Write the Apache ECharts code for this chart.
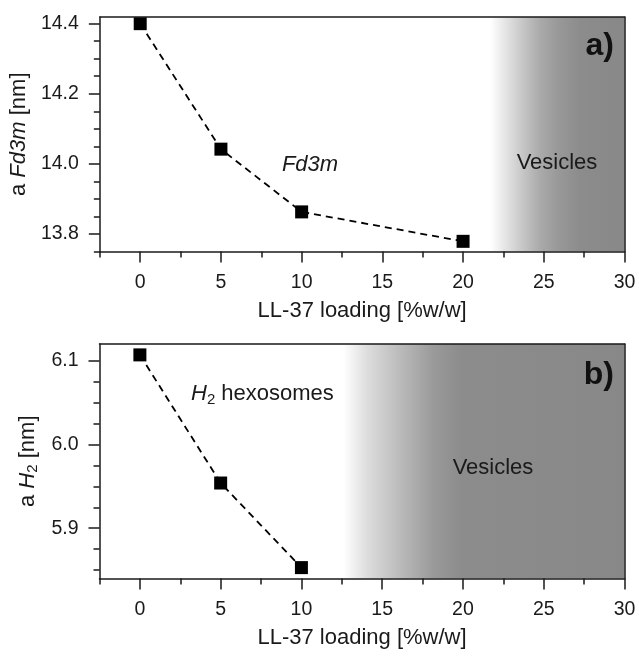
<!DOCTYPE html>
<html>
<head>
<meta charset="utf-8">
<script src="https://cdn.jsdelivr.net/npm/echarts@6/dist/echarts.min.js"></script>
<style>
    html, body { margin: 0; padding: 0; background: #fff; }
    #chartWrap { width: 639px; height: 657px; }
</style>
</head>
<body>
<div id="chartWrap"></div>
<script>
// 数据：LL-37 loading 与晶格参数
var loadingA = [0, 5, 10, 20];
var latticeA = [14.40, 14.042, 13.863, 13.779]; // a Fd3m [nm]
var loadingB = [0, 5, 10];
var latticeB = [6.107, 5.954, 5.853]; // a H2 [nm]

// 刻度
var xMajor = [0, 5, 10, 15, 20, 25, 30];
var xMinor = [-2.5, 2.5, 7.5, 12.5, 17.5, 22.5, 27.5];
var yMajorA = [13.8, 14.0, 14.2, 14.4];
var yMinorA = [13.75, 13.85, 13.9, 13.95, 14.05, 14.1, 14.15, 14.25, 14.3, 14.35];
var yMajorB = [5.9, 6.0, 6.1];
var yMinorB = [5.85, 5.875, 5.925, 5.95, 5.975, 6.025, 6.05, 6.075];

// 囊泡区域 (x)
var vesicleA = [21.7, 30];
var vesicleB = [12.6, 30];

var FONT = '"Liberation Sans", Arial, sans-serif';
var INK = '#1a1a1a';
var xRange = [-2.5, 30];
var xTitle = 'LL-37 loading [%w/w]';

var lineSt = { color: INK, width: 1.5 };
var labelSize = 19.5;
var nameSize = 22;

// 每个面板三个x轴：主刻度+标签、次刻度、顶边框
function xAxes(grid) {
    var base = { gridIndex: grid, type: 'value', min: xRange[0], max: xRange[1], z: 10, splitLine: { show: false } };
    return [
        $x(base, {
            position: 'bottom',
            name: xTitle, nameLocation: 'middle', nameGap: 48,
            nameTextStyle: { fontSize: nameSize, color: INK, fontFamily: FONT },
            axisLine: { show: true, onZero: false, lineStyle: lineSt },
            axisTick: { show: true, length: 11, customValues: xMajor, lineStyle: lineSt },
            axisLabel: { show: true, customValues: xMajor, margin: 21, fontSize: labelSize, color: INK, fontFamily: FONT }
        }),
        $x(base, {
            position: 'bottom',
            axisLine: { show: false, onZero: false },
            axisTick: { show: true, length: 6, customValues: xMinor, lineStyle: lineSt },
            axisLabel: { show: false }
        }),
        $x(base, {
            position: 'top',
            axisLine: { show: true, onZero: false, lineStyle: lineSt },
            axisTick: { show: false }, axisLabel: { show: false }
        })
    ];
}

function yAxes(grid, range, major, minor, title, rich, gap) {
    var base = { gridIndex: grid, type: 'value', min: range[0], max: range[1], z: 10, splitLine: { show: false } };
    return [
        $x(base, {
            position: 'left',
            name: title, nameLocation: 'middle', nameGap: gap, nameRotate: 90,
            nameTextStyle: { fontSize: nameSize, color: INK, fontFamily: FONT, rich: rich },
            axisLine: { show: true, onZero: false, lineStyle: lineSt },
            axisTick: { show: true, length: 11, customValues: major, lineStyle: lineSt },
            axisLabel: {
                show: true, customValues: major, margin: 21, fontSize: labelSize, color: INK, fontFamily: FONT,
                formatter: function (v) { return v.toFixed(1); }
            }
        }),
        $x(base, {
            position: 'left',
            axisLine: { show: false, onZero: false },
            axisTick: { show: true, length: 6, customValues: minor, lineStyle: lineSt },
            axisLabel: { show: false }
        }),
        $x(base, {
            position: 'right',
            axisLine: { show: true, onZero: false, lineStyle: lineSt },
            axisTick: { show: false }, axisLabel: { show: false }
        })
    ];
}

// 浅拷贝合并
function $x(a, b) {
    var o = {}, k;
    for (k in a) o[k] = a[k];
    for (k in b) o[k] = b[k];
    return o;
}

function pairs(xs, ys) {
    var d = [];
    for (var i = 0; i < xs.length; i++) d.push([xs[i], ys[i]]);
    return d;
}

// 白->灰 渐变
function fade(stops) {
    return new echarts.graphic.LinearGradient(0, 0, 1, 0, stops);
}

function series(xi, yi, xs, ys, band, stops) {
    return {
        type: 'line',
        xAxisIndex: xi, yAxisIndex: yi,
        data: pairs(xs, ys),
        symbol: 'rect', symbolSize: 13,
        itemStyle: { color: '#000' },
        lineStyle: { color: '#000', width: 1.8, type: [7, 5] },
        z: 5,
        animation: false,
        markArea: {
            silent: true,
            itemStyle: { color: fade(stops), borderWidth: 0 },
            data: [[{ xAxis: band[0] }, { xAxis: band[1] }]]
        }
    };
}

var richA = {
    n: { fontSize: nameSize, fontFamily: FONT, color: INK },
    i: { fontSize: nameSize, fontFamily: FONT, color: INK, fontStyle: 'italic' }
};
// 下标 2 往下压一点
var richB = {
    n: { fontSize: nameSize, fontFamily: FONT, color: INK, lineHeight: 24, verticalAlign: 'top' },
    i: { fontSize: nameSize, fontFamily: FONT, color: INK, fontStyle: 'italic', lineHeight: 24, verticalAlign: 'top' },
    s: { fontSize: 15, fontFamily: FONT, color: INK, lineHeight: 15, padding: [17, 0, 0, 0], verticalAlign: 'bottom' }
};

var myChart = echarts.init(document.getElementById('chartWrap'));

var option = {
    animation: false,
    backgroundColor: '#fff',
    textStyle: { fontFamily: FONT },
    grid: [
        { left: 99.5, top: 17, width: 525, height: 234.5 },
        { left: 99.5, top: 344, width: 525, height: 234.5 }
    ],
    xAxis: xAxes(0).concat(xAxes(1)),
    yAxis: yAxes(0, [13.75, 14.419], yMajorA, yMinorA, '{n|a }{i|Fd3m}{n| [nm]}', richA, 51)
        .concat(yAxes(1, [5.84, 6.12], yMajorB, yMinorB, '{n|a }{i|H}{s|2}{n| [nm]}', richB, 52)),
    series: [
        series(0, 0, loadingA, latticeA, vesicleA, [
            { offset: 0, color: '#ffffff' },
            { offset: 0.13, color: '#e0e0e0' },
            { offset: 0.25, color: '#c4c4c4' },
            { offset: 0.37, color: '#aaaaaa' },
            { offset: 0.5, color: '#999999' },
            { offset: 0.67, color: '#8c8c8c' },
            { offset: 1, color: '#888888' }
        ]),
        series(3, 3, loadingB, latticeB, vesicleB, [
            { offset: 0, color: '#ffffff' },
            { offset: 0.085, color: '#dddddd' },
            { offset: 0.2, color: '#bbbbbb' },
            { offset: 0.32, color: '#9a9a9a' },
            { offset: 0.42, color: '#8c8c8c' },
            { offset: 1, color: '#888888' }
        ])
    ],
    // 注释文字
    graphic: [
        { type: 'text', x: 614, y: 46, z: 100, style: { text: 'a)', fontSize: 32, fontWeight: 'bold', fontFamily: FONT, fill: '#111', align: 'right', verticalAlign: 'middle' } },
        { type: 'text', x: 614, y: 375, z: 100, style: { text: 'b)', fontSize: 32, fontWeight: 'bold', fontFamily: FONT, fill: '#111', align: 'right', verticalAlign: 'middle' } },
        { type: 'text', x: 557, y: 163, z: 100, style: { text: 'Vesicles', fontSize: 22, fontFamily: FONT, fill: '#1a1a1a', align: 'center', verticalAlign: 'middle' } },
        { type: 'text', x: 493, y: 468, z: 100, style: { text: 'Vesicles', fontSize: 22, fontFamily: FONT, fill: '#1a1a1a', align: 'center', verticalAlign: 'middle' } },
        { type: 'text', x: 310, y: 165, z: 100, style: { text: 'Fd3m', fontSize: 22, fontStyle: 'italic', fontFamily: FONT, fill: INK, align: 'center', verticalAlign: 'middle' } },
        { type: 'text', x: 191, y: 395, z: 100, style: { text: '{i|H}{s|2}{n| hexosomes}', fontSize: 22, fontFamily: FONT, fill: INK, align: 'left', verticalAlign: 'middle', rich: richB } }
    ]
};

myChart.setOption(option);
</script>
</body>
</html>
